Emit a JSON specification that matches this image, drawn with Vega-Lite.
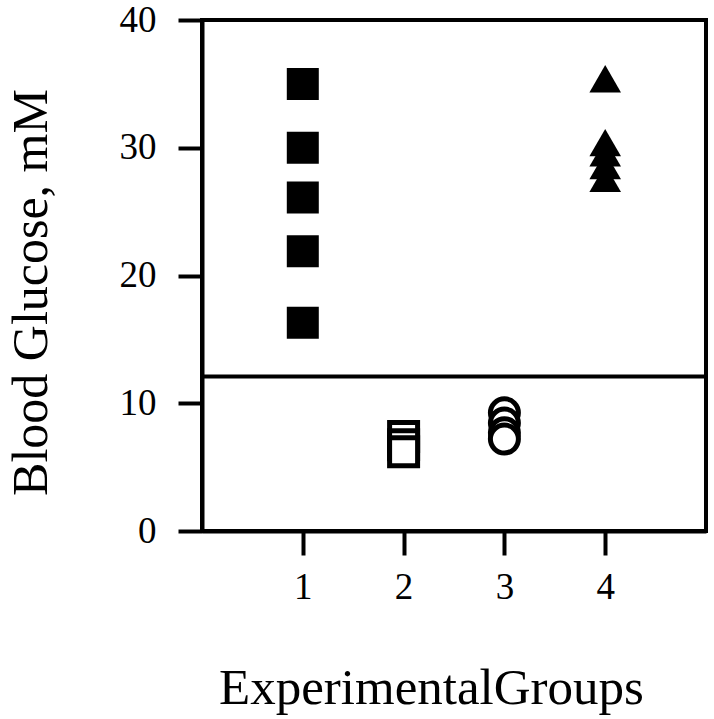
{
  "$schema": "https://vega.github.io/schema/vega-lite/v6.json",
  "width": 504,
  "height": 511,
  "autosize": {"type": "none"},
  "padding": {"left": 202, "top": 20, "right": 8, "bottom": 188},
  "background": "white",
  "config": {
    "view": {"stroke": "black", "strokeWidth": 4, "fill": "white"},
    "axis": {
      "domainColor": "black", "domainWidth": 4, "tickColor": "black", "tickWidth": 4,
      "tickSize": 24, "labelColor": "black", "titleColor": "black", "grid": false,
      "labelFont": "Liberation Serif", "titleFont": "Liberation Serif",
      "titleFontWeight": "normal", "labelFontSize": 37, "titleFontSize": 51
    }
  },
  "datasets": {
    "points": [
      {"group": 1, "glucose": 35.0},
      {"group": 1, "glucose": 30.0},
      {"group": 1, "glucose": 26.1},
      {"group": 1, "glucose": 21.9},
      {"group": 1, "glucose": 16.3},
      {"group": 2, "glucose": 7.4},
      {"group": 2, "glucose": 6.75},
      {"group": 2, "glucose": 6.2},
      {"group": 3, "glucose": 9.25},
      {"group": 3, "glucose": 8.45},
      {"group": 3, "glucose": 7.7},
      {"group": 3, "glucose": 7.2},
      {"group": 4, "glucose": 35.4},
      {"group": 4, "glucose": 30.4},
      {"group": 4, "glucose": 29.6},
      {"group": 4, "glucose": 28.6},
      {"group": 4, "glucose": 27.6}
    ],
    "cutoff": [{"threshold": 12.1}]
  },
  "encoding": {
    "x": {
      "field": "group", "type": "quantitative",
      "scale": {"domain": [0, 5], "nice": false, "zero": false},
      "axis": {
        "values": [1, 2, 3, 4], "labelPadding": 14, "labelDx": -5,
        "title": "ExperimentalGroups", "titleX": 229, "titleY": 172,
        "titleAlign": "center", "titleBaseline": "alphabetic", "titleAnchor": null
      }
    },
    "y": {
      "field": "glucose", "type": "quantitative",
      "scale": {"domain": [0, 40], "nice": false},
      "axis": {
        "values": [0, 10, 20, 30, 40], "labelPadding": 22,
        "title": "Blood Glucose,  mM", "titleX": -156, "titleY": 272,
        "titleFontSize": 50,
        "titleAlign": "center", "titleBaseline": "alphabetic", "titleAngle": -90
      }
    }
  },
  "layer": [
    {
      "data": {"name": "cutoff"},
      "mark": {"type": "rule", "color": "black", "strokeWidth": 4},
      "encoding": {"x": null, "y": {"field": "threshold", "type": "quantitative"}}
    },
    {
      "data": {"name": "points"},
      "transform": [{"filter": "datum.group == 1"}],
      "mark": {"type": "point", "shape": "square", "filled": true, "color": "black", "size": 1024, "opacity": 1, "strokeWidth": 0}
    },
    {
      "data": {"name": "points"},
      "transform": [{"filter": "datum.group == 2"}],
      "mark": {"type": "point", "shape": "square", "filled": false, "fill": "white", "fillOpacity": 1, "stroke": "black", "strokeWidth": 5, "size": 784, "opacity": 1}
    },
    {
      "data": {"name": "points"},
      "transform": [{"filter": "datum.group == 3"}],
      "mark": {"type": "point", "shape": "circle", "filled": false, "fill": "white", "fillOpacity": 1, "stroke": "black", "strokeWidth": 5, "size": 784, "opacity": 1}
    },
    {
      "data": {"name": "points"},
      "transform": [{"filter": "datum.group == 4"}],
      "mark": {"type": "point", "shape": "triangle-up", "filled": true, "color": "black", "size": 1000, "opacity": 1, "strokeWidth": 0}
    }
  ]
}
